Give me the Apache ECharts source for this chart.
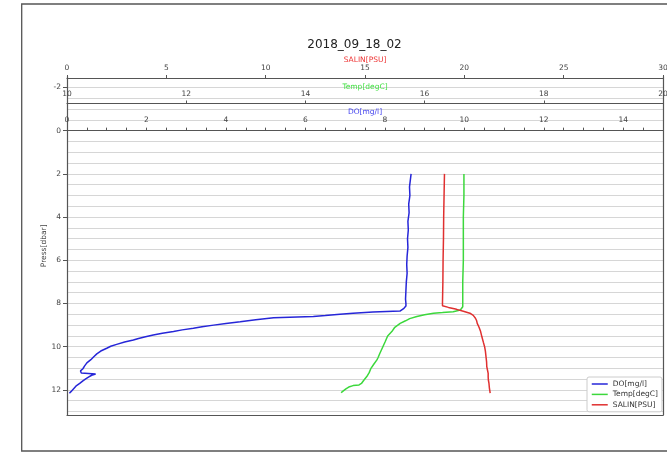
<!DOCTYPE html>
<html><head><meta charset="utf-8">
<script src="https://cdn.jsdelivr.net/npm/echarts@6/dist/echarts.min.js"></script>
<style>html,body{margin:0;padding:0;background:#fff}#c{width:667px;height:452px}</style>
</head><body><div id="c"></div>
<script>
// ---- data (pressure in dbar, values) ----
const doPress = [2.0,2.3,2.6,3.0,3.4,3.8,4.2,4.6,5.0,5.4,5.8,6.2,6.6,7.0,7.4,7.8,8.0,8.12,8.22,8.3,8.35,8.39,8.45,8.5,8.56,8.6,8.66,8.75,8.84,8.92,9.0,9.08,9.15,9.22,9.3,9.38,9.46,9.55,9.62,9.69,9.78,9.89,9.98,10.07,10.2,10.33,10.45,10.6,10.75,10.9,11.02,11.12,11.18,11.22,11.26,11.32,11.4,11.48,11.58,11.7,11.8,11.88,11.98,12.08,12.15];
const doVals  = [8.66,8.64,8.62,8.63,8.60,8.61,8.58,8.59,8.57,8.58,8.56,8.55,8.56,8.54,8.53,8.52,8.53,8.53,8.48,8.45,8.38,7.7,7.2,6.87,6.5,6.2,5.2,4.75,4.36,4.0,3.69,3.4,3.18,2.9,2.68,2.4,2.17,1.95,1.8,1.67,1.45,1.25,1.1,1.0,0.85,0.75,0.68,0.6,0.5,0.44,0.4,0.34,0.38,0.36,0.72,0.62,0.55,0.48,0.4,0.32,0.24,0.2,0.15,0.1,0.06];

const tempPress = [2.0,3.0,4.0,5.0,6.0,7.0,8.0,8.15,8.3,8.38,8.42,8.45,8.52,8.6,8.7,8.8,8.92,9.1,9.3,9.5,9.76,10.0,10.3,10.5,10.61,10.8,11.0,11.2,11.38,11.55,11.7,11.77,11.8,11.85,11.95,12.08,12.13];
const tempVals  = [16.66,16.66,16.65,16.65,16.65,16.64,16.64,16.64,16.6,16.48,16.3,16.15,16.0,15.87,15.75,15.68,15.59,15.5,15.45,15.38,15.34,15.3,15.25,15.22,15.2,15.15,15.1,15.07,15.03,14.98,14.94,14.9,14.8,14.74,14.68,14.62,14.6];

const salPress = [2.0,3.0,4.0,5.0,6.0,7.0,8.0,8.1,8.18,8.27,8.36,8.45,8.55,8.68,8.8,8.92,9.1,9.3,9.53,9.8,10.0,10.2,10.46,10.7,10.92,11.1,11.23,11.4,11.54,11.7,11.9,12.08,12.15];
const salVals  = [19.0,18.98,18.96,18.95,18.93,18.92,18.9,18.9,19.2,19.61,19.95,20.28,20.45,20.56,20.62,20.65,20.74,20.82,20.88,20.96,21.02,21.06,21.09,21.12,21.13,21.17,21.2,21.2,21.21,21.24,21.26,21.29,21.3];

// ---- tick labels ----
const pressLabels = [-2,0,2,4,6,8,10,12];
const doLabels = [0,2,4,6,8,10,12,14];
const tempLabels = [10,12,14,16,18,20];
const salLabels = [0,5,10,15,20,25,30];

const FONT = 'DejaVu Sans';
const AX = '#555';
const LBL = '#444';
const zip = (a, p) => a.map((v, i) => [v, p[i]]);

const topAxis = (o) => Object.assign({
  type: 'value', position: 'top',
  nameLocation: 'middle', nameMoveOverlap: false,
  axisLine: {show: true, onZero: false, lineStyle: {color: AX, width: 1.2}},
  axisTick: {show: true, inside: false, length: 3, lineStyle: {color: AX}},
  splitLine: {show: false},
  axisLabel: {fontSize: 7.5, color: LBL, fontFamily: FONT, margin: 6}
}, o);

const yRange = {min: -2.5, max: 13.16};

const option = {
  animation: false,
  backgroundColor: '#fff',
  textStyle: {fontFamily: FONT},
  title: {
    text: '2018_09_18_02', left: 354.5, top: 39, padding: 0, textAlign: 'center',
    textStyle: {fontSize: 12, fontWeight: 'normal', color: '#222', fontFamily: FONT}
  },
  graphic: [{
    type: 'rect', shape: {x: 21.7, y: 4, width: 700, height: 447},
    style: {fill: 'none', stroke: '#555', lineWidth: 1.3}, silent: true, z: -1
  }],
  legend: {
    orient: 'vertical', left: 587, top: 377, padding: [3, 4, 3, 4],
    itemGap: 2.4, itemWidth: 16, itemHeight: 8,
    borderColor: '#ccc', borderWidth: 1, borderRadius: 2, backgroundColor: '#fff',
    itemStyle: {opacity: 0, borderWidth: 0},
    lineStyle: {width: 1.5},
    textStyle: {fontSize: 7.5, color: '#333', fontFamily: FONT},
    data: ['DO[mg/l]', 'Temp[degC]', 'SALIN[PSU]']
  },
  grid: {left: 67, top: 76.65, width: 596, height: 338.35, containLabel: false, outerBoundsMode: 'none'},
  xAxis: [
    topAxis({min: 0, max: 30, interval: 5, offset: -1.35,
      name: 'SALIN[PSU]', nameGap: 14,
      nameTextStyle: {color: '#ee3333', fontSize: 7.5, fontFamily: FONT},
      axisLabel: {fontSize: 7.5, color: LBL, fontFamily: FONT, margin: 6,
        formatter: v => salLabels.includes(v) ? String(v) : ''}}),
    topAxis({min: 10, max: 20, interval: 2, offset: -26.85,
      name: 'Temp[degC]', nameGap: 12.5,
      nameTextStyle: {color: '#44e044', fontSize: 7.5, fontFamily: FONT},
      axisLabel: {fontSize: 7.5, color: LBL, fontFamily: FONT, margin: 5.5,
        formatter: v => tempLabels.includes(v) ? String(v) : ''}}),
    topAxis({min: 0, max: 15, interval: 0.5, offset: -54,
      name: 'DO[mg/l]', nameGap: 14.5,
      nameTextStyle: {color: '#4444ee', fontSize: 7.5, fontFamily: FONT},
      axisLabel: {fontSize: 7.5, color: LBL, fontFamily: FONT, margin: 6.5,
        formatter: v => doLabels.includes(v) ? String(v) : ''}}),
    {type: 'value', position: 'bottom', min: 0, max: 1,
      axisLine: {show: true, onZero: false, lineStyle: {color: AX, width: 1.2}},
      axisTick: {show: false}, axisLabel: {show: false}, splitLine: {show: false}}
  ],
  yAxis: [
    Object.assign({type: 'value', inverse: true, interval: 0.5, position: 'left',
      axisLine: {show: true, onZero: false, lineStyle: {color: AX, width: 1.2}},
      axisTick: {show: false}, axisLabel: {show: false},
      splitLine: {show: true, showMinLine: false, showMaxLine: false, lineStyle: {color: '#d6d6d6', width: 1}}
    }, yRange),
    Object.assign({type: 'value', inverse: true, interval: 0.5, position: 'left',
      name: 'Press[dbar]', nameLocation: 'middle', nameGap: 19, nameMoveOverlap: false,
      nameTextStyle: {fontSize: 7.5, color: '#444', fontFamily: FONT},
      axisLine: {show: false, onZero: false},
      axisTick: {show: true, length: 4, customValues: pressLabels, lineStyle: {color: AX}},
      axisLabel: {fontSize: 7.5, color: LBL, fontFamily: FONT, margin: 6, customValues: pressLabels,
        formatter: v => pressLabels.includes(v) ? String(v) : ''},
      splitLine: {show: false}
    }, yRange),
    Object.assign({type: 'value', inverse: true, position: 'right',
      axisLine: {show: true, onZero: false, lineStyle: {color: AX, width: 1.2}},
      axisTick: {show: false}, axisLabel: {show: false}, splitLine: {show: false}
    }, yRange)
  ],
  series: [
    {name: 'DO[mg/l]', type: 'line', xAxisIndex: 2, yAxisIndex: 0, symbol: 'none',
      lineStyle: {color: '#2626d8', width: 1.5}, itemStyle: {color: '#2626d8'},
      data: zip(doVals, doPress)},
    {name: 'Temp[degC]', type: 'line', xAxisIndex: 1, yAxisIndex: 0, symbol: 'none',
      lineStyle: {color: '#3cd83c', width: 1.5}, itemStyle: {color: '#3cd83c'},
      data: zip(tempVals, tempPress)},
    {name: 'SALIN[PSU]', type: 'line', xAxisIndex: 0, yAxisIndex: 0, symbol: 'none',
      lineStyle: {color: '#e03030', width: 1.5}, itemStyle: {color: '#e03030'},
      data: zip(salVals, salPress)}
  ]
};
const chart = echarts.init(document.getElementById('c'), null, {renderer: 'canvas'});
chart.setOption(option);
</script>
</body></html>
